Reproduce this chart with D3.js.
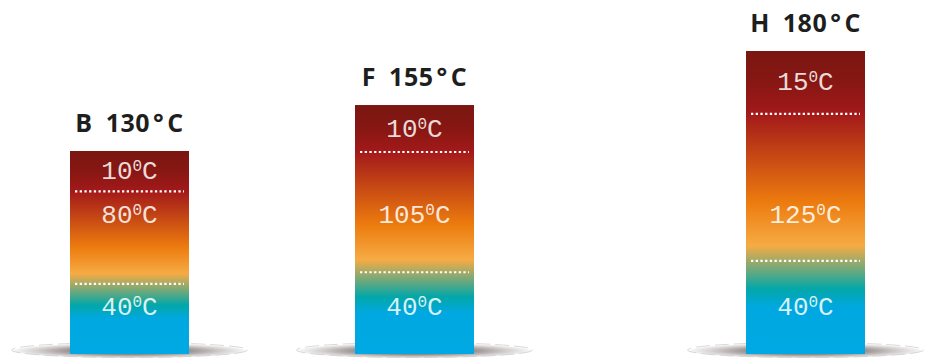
<!DOCTYPE html>
<html><head><meta charset="utf-8">
<script src="https://cdn.jsdelivr.net/npm/d3@7"></script>
<style>body{margin:0;background:#fff;} svg{display:block;}</style>
</head><body><svg id="chart" width="926" height="358"></svg>
<script>
// ---- data ----
const classes = ["B", "F", "H"];
const classTemps = [130, 155, 180];      // insulation class limit (°C)
const ambient = [40, 40, 40];            // ambient temperature (°C)
const rise = [80, 105, 125];             // allowed temperature rise (°C)
const hotspot = [10, 10, 15];            // hot-spot margin (°C)

// ---- layout ----
const W = 926, H = 358;
const baseY = 354, barW = 119;
const svg = d3.select("#chart");
const defs = svg.append("defs");

const x = d3.scaleOrdinal().domain(classes).range([129.5, 414.5, 805.5]);
const yTop = d3.scalePow().exponent(2).domain(d3.extent(classTemps)).range([151, 51]);
const weight = d3.scalePow().exponent(0.4).domain([0, 1]).range([0, 1]);
const labelLift = [48, 140]; // label offsets above base for ambient & rise

// shadow gradient
const rg = defs.append("radialGradient").attr("id", "shadow").attr("cx", "50%").attr("cy", "55%").attr("r", "50%");
[[0, "#6d6463", 1], [0.45, "#8f8886", 1], [0.75, "#cfcbca", 1], [0.95, "#f4f3f3", 1], [1, "#ffffff", 0]]
  .forEach(([o, c, op]) => rg.append("stop").attr("offset", o).attr("stop-color", c).attr("stop-opacity", op));

classes.forEach((cls, i) => {
  const cx = x(cls);
  const top = yTop(classTemps[i]);
  const segs = [ambient[i], rise[i], hotspot[i]];
  const w = segs.map(weight);
  const inner = d3.scaleLinear().domain([0, d3.sum(w)]).range([baseY, top]);
  const cum = d3.cumsum(w);
  const yLow = inner(cum[0]), yUp = inner(cum[1]);
  const h = baseY - top;
  const b1 = (yUp - top) / h, b2 = (yLow - top) / h;

  // shadow ellipse
  const g = svg.append("g");
  g.append("ellipse").attr("cx", cx).attr("cy", 350).attr("rx", 120).attr("ry", 8)
    .attr("fill", "url(#shadow)");
  g.append("ellipse").attr("cx", cx).attr("cy", 350).attr("rx", 118).attr("ry", 7.5)
    .attr("fill", "none").attr("stroke", "#cfcfcf").attr("stroke-width", 0.8)
    .attr("stroke-dasharray", "14,5");

  // gradient
  const lg = defs.append("linearGradient").attr("id", "grad" + cls)
    .attr("x1", 0).attr("y1", 0).attr("x2", 0).attr("y2", 1);
  [[0, "#7a1611"], [b1 * 0.5, "#871713"], [b1, "#a3191a"],
   [b1 + 0.6 * (b2 - b1), "#ec7b0e"], [b2 - 0.05, "#f6ab44"],
   [b2 + 0.3 * (1 - b2), "#03a7a8"], [b2 + 0.5 * (1 - b2), "#00a8e1"], [1, "#00a9e3"]]
    .forEach(([o, c]) => lg.append("stop").attr("offset", o).attr("stop-color", c));

  g.append("rect").attr("x", cx - barW / 2).attr("y", top).attr("width", barW).attr("height", h)
    .attr("fill", "url(#grad" + cls + ")");

  // dotted separators
  [yLow, yUp].forEach(yy => {
    g.append("line").attr("x1", cx - barW / 2 + 5).attr("x2", cx + barW / 2 - 5)
      .attr("y1", yy).attr("y2", yy)
      .attr("stroke", "#fff").attr("stroke-width", 2.2).attr("stroke-dasharray", "2.3,2.4");
  });

  // segment labels
  const labelY = [baseY - labelLift[0], baseY - labelLift[1], (top + yUp) / 2 - 1];
  segs.forEach((v, k) => {
    const t = g.append("text").attr("x", cx).attr("y", labelY[k] + 9)
      .attr("text-anchor", "middle")
      .attr("font-family", "'Liberation Mono', 'DejaVu Sans Mono', monospace")
      .attr("font-size", 26).attr("fill", "#ffffff").attr("fill-opacity", 0.85);
    t.append("tspan").text(v);
    t.append("tspan").attr("dy", -8).attr("font-size", 16).text("0");
    t.append("tspan").attr("dy", 8).text("C");
  });

  // title
  const tt = svg.append("text").attr("x", cx).attr("y", top - 19).attr("text-anchor", "middle")
    .attr("font-family", "'Open Sans', sans-serif").attr("font-weight", 700)
    .attr("font-size", 25).attr("fill", "#1e1e1e").attr("letter-spacing", 0.5);
  tt.append("tspan").text(cls);
  tt.append("tspan").attr("dx", 13).text(classTemps[i]);
  tt.append("tspan").attr("dx", 3).text("\u00B0");
  tt.append("tspan").attr("dx", 3).text("C");
});
</script>
</body></html>
